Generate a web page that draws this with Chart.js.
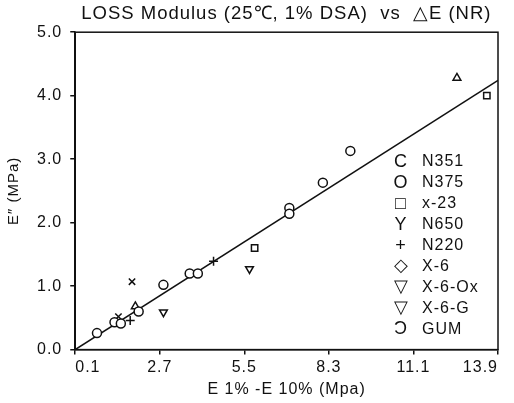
<!DOCTYPE html>
<html>
<head>
<meta charset="utf-8">
<script src="https://cdn.jsdelivr.net/npm/chart.js@4"></script>
<style>
  body { margin: 0; background: #fff; }
  #wrap { width: 514px; height: 403px; }
</style>
</head>
<body>
<div id="wrap"><canvas id="lossChart"></canvas></div>
<script>
// tick labels as printed on the original
const xTickLabels = ['0.1', '2.7', '5.5', '8.3', '11.1', '13.9'];
const yTickLabels = ['0.0', '1.0', '2.0', '3.0', '4.0', '5.0'];

// data: [deltaE, E'']
const gum = [[0.62, 0.26]];
const n351 = [[1.20, 0.43], [1.41, 0.41], [2.00, 0.60]];
const n375 = [[2.82, 1.02], [3.69, 1.20], [3.96, 1.20], [6.99, 2.23], [6.99, 2.14], [8.10, 2.63], [9.01, 3.13]];
const x23 = [[5.84, 1.60], [13.53, 4.00]];
const n650 = [[1.78, 1.07], [1.33, 0.52]];
const n220 = [[1.72, 0.46], [4.48, 1.39]];
const x6 = [[1.89, 0.68], [12.54, 4.28]];
const x6ox = [[2.82, 0.59]];
const x6g = [[5.67, 1.27]];

// fitted line ends
const fitX = [-0.1, 13.9];
const fitY = [0.0, 4.24];

// legend as printed (symbol, name)
const legendSymbols = ['C', 'O', '□', 'Y', '+', '◇', '▽', '▽', 'Ͻ'];
const legendNames = ['N351', 'N375', 'x-23', 'N650', 'N220', 'X-6', 'X-6-Ox', 'X-6-G', 'GUM'];

const FONT = "'Liberation Sans', Arial, sans-serif";

function pts(arr) {
    return arr.map(p => ({ x: p[0], y: p[1] }));
}

function series(label, arr, style, rot) {
    return {
        label: label,
        data: pts(arr),
        pointStyle: style,
        rotation: rot || 0,
        pointRadius: 4.5,
        borderColor: '#111',
        backgroundColor: '#fff',
        borderWidth: 1.5,
        showLine: false
    };
}

// the scan's lettering is widely spaced
const spacing = {
    id: 'spacing',
    beforeUpdate(chart) { chart.ctx.letterSpacing = '1px'; },
    beforeDraw(chart) { chart.ctx.letterSpacing = '1px'; }
};

const legendText = {
    id: 'legendText',
    afterDraw(chart) {
        const ctx = chart.ctx;
        ctx.save();
        ctx.fillStyle = '#111';
        ctx.textBaseline = 'middle';
        for (let i = 0; i < legendNames.length; i++) {
            const y = 162 + i * 20.9;
            ctx.font = '18px ' + FONT;
            ctx.textAlign = 'center';
            ctx.fillText(legendSymbols[i], 401, y);
            ctx.font = '16px ' + FONT;
            ctx.textAlign = 'left';
            ctx.fillText(legendNames[i], 422, y);
        }
        ctx.restore();
    }
};

const frame = {
    id: 'frame',
    afterDraw(chart) {
        const a = chart.chartArea;
        const ctx = chart.ctx;
        ctx.save();
        ctx.strokeStyle = '#111';
        ctx.lineWidth = 1.5;
        ctx.strokeRect(a.left, a.top, a.right - a.left, a.bottom - a.top);
        ctx.restore();
    }
};

new Chart(document.getElementById('lossChart').getContext('2d'), {
    type: 'scatter',
    data: {
        datasets: [
            series('N351', n351, 'circle'),
            series('N375', n375, 'circle'),
            series('x-23', x23, 'rect'),
            series('N650', n650, 'crossRot'),
            series('N220', n220, 'cross'),
            series('X-6', x6, 'triangle'),
            series('X-6-Ox', x6ox, 'triangle', 180),
            series('X-6-G', x6g, 'triangle', 180),
            series('GUM', gum, 'circle'),
            {
                label: 'fit',
                data: fitX.map((x, i) => ({ x: x, y: fitY[i] })),
                showLine: true,
                borderColor: '#111',
                borderWidth: 1.5,
                pointRadius: 0
            }
        ]
    },
    plugins: [spacing, legendText, frame],
    options: {
        responsive: true,
        maintainAspectRatio: false,
        animation: false,
        layout: { padding: { left: 1, right: 16, top: 0, bottom: 0 } },
        plugins: {
            legend: { display: false },
            tooltip: { enabled: false },
            title: {
                display: true,
                text: '            LOSS Modulus (25℃, 1% DSA)  vs  △E (NR)',
                color: '#111',
                font: { family: FONT, size: 18.5, weight: 'normal' },
                padding: { top: 3, bottom: 7 }
            }
        },
        scales: {
            x: {
                type: 'linear',
                min: -0.1,
                max: 13.9,
                afterBuildTicks: axis => {
                    axis.ticks = xTickLabels.map((t, i) => ({ value: -0.1 + i * 2.8 }));
                },
                ticks: {
                    color: '#111',
                    font: { family: FONT, size: 16 },
                    padding: 3,
                    align: 'inner',
                    callback: (v, i) => xTickLabels[i]
                },
                grid: { drawOnChartArea: false, color: '#111', tickLength: 5, lineWidth: 1.5 },
                border: { color: '#111', width: 1.5 },
                title: {
                    display: true,
                    text: 'E 1% -E 10% (Mpa)',
                    color: '#111',
                    font: { family: FONT, size: 16 },
                    padding: { top: 0 }
                }
            },
            y: {
                min: 0,
                max: 5,
                afterBuildTicks: axis => {
                    axis.ticks = yTickLabels.map((t, i) => ({ value: i }));
                },
                ticks: {
                    color: '#111',
                    font: { family: FONT, size: 16 },
                    padding: 8,
                    callback: (v, i) => yTickLabels[i]
                },
                grid: { drawOnChartArea: false, color: '#111', tickLength: 5, lineWidth: 1.5 },
                border: { color: '#111', width: 1.5 },
                title: {
                    display: true,
                    text: 'E″ (MPa)',
                    color: '#111',
                    font: { family: FONT, size: 15 },
                    padding: { bottom: 6 }
                }
            }
        }
    }
});
</script>
</body>
</html>
